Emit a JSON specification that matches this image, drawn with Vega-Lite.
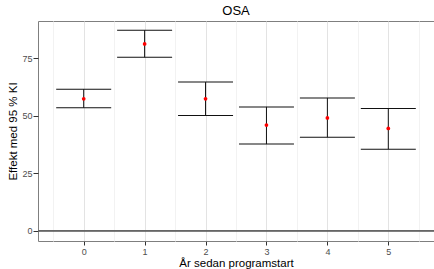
{
  "$schema": "https://vega.github.io/schema/vega-lite/v6.json",
  "autosize": {"type": "none"},
  "width": 396,
  "height": 220,
  "padding": {"left": 38, "top": 21, "right": 0, "bottom": 28},
  "background": "white",
  "config": {
    "font": "Liberation Sans",
    "view": {"stroke": "#7f7f7f", "strokeWidth": 1},
    "axis": {"domain": false, "labelFont": "Liberation Sans", "titleFont": "Liberation Sans", "titleFontWeight": "normal"}
  },
  "title": {"text": "OSA", "fontSize": 13, "fontWeight": "normal", "color": "#000", "offset": 3, "anchor": "middle"},
  "data": {"values": [
    {"ar": 0, "est": 57.4, "lo": 53.5, "hi": 61.6},
    {"ar": 1, "est": 81.3, "lo": 75.5, "hi": 87.3},
    {"ar": 2, "est": 57.4, "lo": 50.2, "hi": 64.7},
    {"ar": 3, "est": 46.0, "lo": 37.7, "hi": 53.9},
    {"ar": 4, "est": 49.1, "lo": 40.7, "hi": 57.8},
    {"ar": 5, "est": 44.5, "lo": 35.5, "hi": 53.2}
  ]},
  "encoding": {
    "x": {"field": "ar", "type": "quantitative",
      "scale": {"domain": [-0.75, 5.75], "nice": false, "zero": false},
      "axis": {"title": "År sedan programstart", "values": [-0.5, 0, 0.5, 1, 1.5, 2, 2.5, 3, 3.5, 4, 4.5, 5, 5.5],
        "labelExpr": "datum.value % 1 === 0 ? '' + datum.value : ''",
        "labelFontSize": 9, "labelColor": "#4d4d4d", "labelPadding": 2,
        "tickSize": 4, "tickColor": {"condition": {"test": "datum.value % 1 === 0", "value": "#333"}, "value": "rgba(0,0,0,0)"},
        "gridColor": {"condition": {"test": "datum.value % 1 === 0", "value": "#e3e3e3"}, "value": "#f2f2f2"},
        "titleFontSize": 11.5, "titleColor": "#000", "titlePadding": 1}
    }
  },
  "layer": [
    {
      "mark": {"type": "rule", "color": "#666", "strokeWidth": 1.4},
      "encoding": {"y": {"datum": 0}, "x": null}
    },
    {
      "mark": {"type": "rule", "color": "#111", "strokeWidth": 1},
      "encoding": {
        "y": {"field": "lo", "type": "quantitative",
          "scale": {"domain": [-4.5, 91.3], "nice": false, "zero": false},
          "axis": {"title": "Effekt med 95 % KI", "values": [0, 12.5, 25, 37.5, 50, 62.5, 75, 87.5],
            "labelExpr": "datum.value % 25 === 0 ? datum.label : ''",
            "labelFontSize": 9, "labelColor": "#4d4d4d", "labelPadding": 1,
            "tickSize": 5, "tickColor": {"condition": {"test": "datum.value % 25 === 0", "value": "#333"}, "value": "rgba(0,0,0,0)"},
            "gridColor": {"condition": {"test": "datum.value % 25 === 0", "value": "#e3e3e3"}, "value": "#f2f2f2"},
            "titleFontSize": 11.5, "titleColor": "#000", "titlePadding": 3}},
        "y2": {"field": "hi"}
      }
    },
    {
      "mark": {"type": "tick", "orient": "horizontal", "size": 55, "thickness": 1, "color": "#111", "opacity": 1},
      "encoding": {"y": {"field": "lo", "type": "quantitative"}}
    },
    {
      "mark": {"type": "tick", "orient": "horizontal", "size": 55, "thickness": 1, "color": "#111", "opacity": 1},
      "encoding": {"y": {"field": "hi", "type": "quantitative"}}
    },
    {
      "mark": {"type": "point", "filled": true, "color": "#ff0000", "size": 14, "opacity": 1},
      "encoding": {"y": {"field": "est", "type": "quantitative"}}
    }
  ]
}
